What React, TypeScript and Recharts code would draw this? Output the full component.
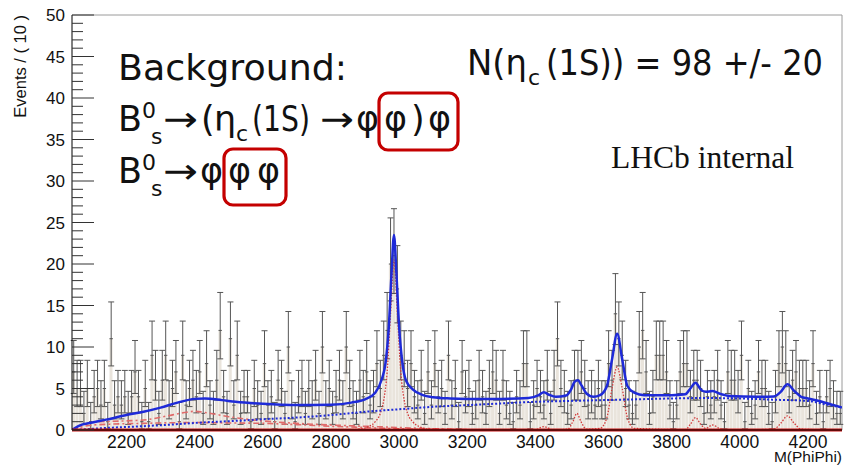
import React from 'react';
import {
  ComposedChart,
  Bar,
  Scatter,
  Line,
  XAxis,
  YAxis,
  ErrorBar,
  ReferenceLine,
} from 'recharts';

// binning of the M(PhiPhi) histogram
const BIN_START = 2040;
const BIN_WIDTH = 10;

// events per bin, 2040 -> 4300
const counts = [
  7, 5, 5, 2, 5, 1, 4, 5, 3, 5,
  1, 11, 3, 4, 3, 4, 2, 4, 7, 4,
  1, 5, 1, 9, 6, 2, 6, 9, 3, 5,
  7, 1, 9, 3, 5, 6, 4, 7, 2, 8,
  3, 2, 6, 12, 4, 2, 11, 3, 9, 2,
  4, 4, 1, 5, 3, 2, 8, 3, 4, 1,
  6, 5, 2, 10, 3, 1, 4, 5, 2, 5,
  3, 6, 2, 10, 3, 5, 2, 4, 6, 3,
  10, 5, 3, 2, 6, 4, 7, 3, 4, 8,
  5, 9, 12, 20, 21, 17, 9, 8, 5, 8,
  4, 3, 6, 2, 7, 3, 8, 4, 5, 2,
  9, 3, 5, 1, 7, 4, 5, 2, 3, 6,
  4, 2, 5, 7, 6, 2, 6, 3, 2, 1,
  4, 3, 8, 8, 1, 3, 5, 4, 3, 6,
  2, 6, 11, 5, 4, 2, 3, 6, 6, 7,
  5, 3, 4, 3, 5, 3, 3, 8, 6, 14,
  11, 9, 5, 3, 2, 3, 10, 12, 7, 2,
  4, 9, 9, 9, 7, 3, 1, 3, 7, 8,
  8, 4, 6, 6, 5, 2, 4, 3, 4, 6,
  3, 1, 7, 6, 6, 4, 9, 1, 5, 2,
  3, 7, 5, 5, 2, 1, 4, 8, 10, 8,
  4, 6, 7, 5, 5, 5, 3, 8, 2, 4,
  1, 4, 5, 3, 2, 2,
];

// total fit (blue solid)
const fitTotal = [
  [2040, 0], [2060, 0.5], [2100, 0.9], [2140, 1.25], [2200, 1.8], [2250, 2.2],
  [2300, 2.7], [2350, 3.3], [2400, 3.75], [2430, 3.8], [2480, 3.6], [2520, 3.4],
  [2600, 3.15], [2700, 3.0], [2800, 3.05], [2860, 3.3], [2900, 3.7], [2930, 4.5],
  [2950, 6.2], [2960, 8.0], [2970, 12.5], [2978, 19], [2985, 23.5], [2992, 19],
  [3000, 12.5], [3010, 8.0], [3020, 6.0], [3040, 4.9], [3070, 4.2], [3100, 3.95],
  [3150, 3.8], [3200, 3.75], [3300, 3.75], [3380, 3.85], [3410, 4.2], [3425, 4.55],
  [3440, 4.25], [3460, 4.0], [3490, 4.15], [3505, 4.9], [3515, 5.8], [3525, 6.0],
  [3535, 5.4], [3550, 4.4], [3570, 4.0], [3590, 4.2], [3610, 5.3], [3625, 8.5],
  [3640, 11.6], [3655, 8.5], [3670, 5.3], [3690, 4.5], [3720, 4.2], [3800, 4.2],
  [3840, 4.3], [3855, 5.0], [3870, 5.7], [3885, 4.9], [3900, 4.6], [3920, 4.7],
  [3940, 4.4], [3970, 4.1], [4050, 4.0], [4100, 4.05], [4120, 4.6], [4140, 5.5],
  [4160, 4.7], [4180, 4.0], [4200, 3.8], [4250, 3.3], [4300, 2.7],
];

// combinatorial background (blue dotted)
const fitBkg = [
  [2040, 0], [2080, 0.1], [2140, 0.25], [2220, 0.4], [2310, 0.6], [2420, 0.9],
  [2520, 1.1], [2600, 1.3], [2700, 1.5], [2800, 1.8], [2900, 2.2], [3000, 2.5],
  [3100, 2.8], [3200, 3.0], [3300, 3.2], [3400, 3.4], [3500, 3.5], [3600, 3.6],
  [3700, 3.7], [3800, 3.8], [3900, 3.85], [4000, 3.8], [4100, 3.65], [4200, 3.5],
  [4250, 3.1], [4300, 2.7],
];

// peaking backgrounds (red dashed)
const bkgBump = [
  [2040, 0], [2080, 0.7], [2120, 1.0], [2200, 1.1], [2260, 1.25], [2320, 1.7],
  [2370, 2.1], [2400, 2.25], [2440, 2.05], [2500, 1.6], [2600, 1.1], [2700, 0.8],
  [2800, 0.6], [2900, 0.45], [3000, 0.3], [3100, 0.15], [3200, 0.05],
];
const bkgFlat = [
  [2040, 0], [2090, 0.55], [2150, 0.7], [2250, 0.8], [2400, 0.9], [2500, 0.85],
  [2600, 0.8], [2700, 0.65], [2800, 0.45], [2900, 0.3], [3000, 0.15], [3100, 0.05],
];

// resonance components (red dotted)
const signals = [
  [2880, 0.1], [2910, 0.4], [2930, 1.0], [2945, 2.0], [2955, 3.6], [2965, 7.0],
  [2975, 14.0], [2985, 20.5], [2995, 14.0], [3005, 7.0], [3015, 3.6], [3025, 2.0],
  [3040, 1.0], [3060, 0.4], [3090, 0.1], [3400, 0], [3415, 0.3], [3425, 0.4],
  [3435, 0.3], [3450, 0], [3495, 0.1], [3510, 1.0], [3522, 2.0], [3534, 1.0],
  [3550, 0.1], [3590, 0.2], [3610, 1.5], [3625, 5.0], [3640, 7.6], [3655, 5.0],
  [3670, 1.5], [3690, 0.2], [3840, 0.05], [3855, 0.7], [3870, 1.5], [3885, 0.7],
  [3900, 0.2], [3920, 0.6], [3940, 0.2], [3960, 0], [4100, 0.1], [4120, 0.8],
  [4140, 1.7], [4160, 0.8], [4180, 0.1], [4300, 0],
];

const xTicks = [2200, 2400, 2600, 2800, 3000, 3200, 3400, 3600, 3800, 4000, 4200];
const yTicks = Array.from({ length: 51 }, (_, i) => i);

const hist = counts.map((n, i) => ({
  m: BIN_START + BIN_WIDTH * (i + 0.5),
  n,
  ey: [n > 0 ? Math.sqrt(n - 0.25) : 0, Math.sqrt(n + 0.75) + 1],
  ex: BIN_WIDTH / 2,
}));

const toRows = (pts: number[][]) => pts.map(([m, v]) => ({ m, v }));

const AXIS_FONT = '"Liberation Sans", Arial, sans-serif';
const BIG_FONT = '"DejaVu Sans", sans-serif';
const BLUE = '#1e2ad8';

const YTick = (props: any) => {
  const { x, y, payload } = props;
  const major = payload.value % 5 === 0;
  return (
    <g>
      <line x1={x} x2={x + (major ? 22 : 11)} y1={y} y2={y} stroke="#333" strokeWidth={1} />
      {major && (
        <text x={x - 7} y={y} dy="0.36em" textAnchor="end" fontSize={17} fontFamily={AXIS_FONT} fill="#111">
          {payload.value}
        </text>
      )}
    </g>
  );
};

const XTick = (props: any) => {
  const { x, y, payload } = props;
  return (
    <text x={x} y={y} dy="0.72em" textAnchor="middle" fontSize={17.5} fontFamily={AXIS_FONT} fill="#111">
      {payload.value}
    </text>
  );
};

// one run of the annotation text
const T = ({ x, y, size = 35, len, children }: any) => (
  <text
    x={x}
    y={y}
    fontSize={size}
    fontFamily={BIG_FONT}
    fill="#111"
    textLength={len}
    lengthAdjust={len ? 'spacingAndGlyphs' : undefined}
  >
    {children}
  </text>
);

const Overlay = () => (
  <svg width={844} height={466} style={{ position: 'absolute', left: 0, top: 0, pointerEvents: 'none' }}>
    <text x={26} y={15} transform="rotate(-90 26 15)" textAnchor="end" fontSize={16.5} fontFamily={AXIS_FONT} fill="#111">
      Events / ( 10 )
    </text>
    <text x={842} y={462} textAnchor="end" fontSize={15.5} fontFamily={AXIS_FONT} fill="#111">
      M(PhiPhi)
    </text>

    <T x={118} y={80} len={229}>Background:</T>

    <T x={118} y={131}>B</T>
    <T x={142} y={118} size={22}>0</T>
    <T x={151} y={144} size={22}>s</T>
    <T x={163} y={131} len={35}>→</T>
    <T x={201} y={131}>(</T>
    <T x={214} y={131}>η</T>
    <T x={236} y={141} size={22}>c</T>
    <T x={252} y={131} len={58}>(1S)</T>
    <T x={320} y={131} len={34}>→</T>
    <T x={356} y={131}>φ</T>
    <T x={384} y={131}>φ</T>
    <T x={411} y={131}>)</T>
    <T x={428} y={131}>φ</T>

    <T x={118} y={183}>B</T>
    <T x={142} y={170} size={22}>0</T>
    <T x={151} y={196} size={22}>s</T>
    <T x={163} y={183} len={35}>→</T>
    <T x={200} y={183}>φ</T>
    <T x={228} y={183}>φ</T>
    <T x={257} y={183}>φ</T>

    <T x={467} y={75} len={60}>N(η</T>
    <T x={528} y={85} size={22}>c</T>
    <T x={546} y={75} len={277}>(1S)) = 98 +/- 20</T>

    <rect x={379} y={93} width={79} height={57} rx={9} fill="none" stroke="#c40000" strokeWidth={3.2} />
    <rect x={224} y={149} width={62} height={56} rx={9} fill="none" stroke="#c40000" strokeWidth={3.2} />

    <text x={611} y={168} fontSize={31} fontFamily='"Liberation Serif", "Times New Roman", serif' fill="#111" textLength={183} lengthAdjust="spacingAndGlyphs">
      LHCb internal
    </text>
  </svg>
);

export default function App() {
  return (
    <div style={{ position: 'absolute', left: 0, top: 0, width: 844, height: 466, background: '#fff' }}>
      <ComposedChart
        width={844}
        height={466}
        data={hist}
        margin={{ top: 15, right: 2, bottom: 0, left: 0 }}
        barCategoryGap={0}
        barGap={0}
      >
        <XAxis xAxisId="f" dataKey="m" type="number" domain={[2040, 4300]} allowDataOverflow orientation="top" height={0} hide />
        <XAxis
          xAxisId="h"
          dataKey="m"
          type="number"
          domain={[2040, 4300]}
          allowDataOverflow
          ticks={xTicks}
          interval={0}
          height={36}
          tickLine={false}
          tickSize={0}
          tickMargin={5}
          axisLine={{ stroke: '#000' }}
          tick={<XTick />}
        />
        <YAxis
          type="number"
          domain={[0, 50]}
          allowDataOverflow
          ticks={yTicks}
          interval={0}
          width={72}
          tickLine={false}
          tickSize={0}
          tickMargin={0}
          axisLine={{ stroke: '#000' }}
          tick={<YTick />}
        />

        <ReferenceLine xAxisId="h" y={50} stroke="#9a9a9a" strokeWidth={1} />
        <ReferenceLine xAxisId="h" x={4300} stroke="#9a9a9a" strokeWidth={1} />

        <Bar xAxisId="h" dataKey="n" fill="#e9e4dc" isAnimationActive={false} />
        <Scatter xAxisId="h" data={hist} dataKey="n" shape={() => <g />} isAnimationActive={false}>
          <ErrorBar dataKey="ey" direction="y" width={3} stroke="#555" strokeWidth={1} />
          <ErrorBar dataKey="ex" direction="x" width={0} stroke="#555" strokeWidth={1} />
        </Scatter>

        <Line xAxisId="f" data={toRows(bkgFlat)} dataKey="v" type="monotone" dot={false} stroke="#e06a6a" strokeWidth={1.6} strokeDasharray="6 3 2 3" isAnimationActive={false} />
        <Line xAxisId="f" data={toRows(bkgBump)} dataKey="v" type="monotone" dot={false} stroke="#e06a6a" strokeWidth={1.6} strokeDasharray="6 3 2 3" isAnimationActive={false} />
        <Line xAxisId="f" data={toRows(signals)} dataKey="v" type="monotone" dot={false} stroke="#d23a3a" strokeWidth={1.3} strokeDasharray="1.5 1.5" isAnimationActive={false} />
        <Line xAxisId="f" data={toRows(fitBkg)} dataKey="v" type="monotone" dot={false} stroke={BLUE} strokeWidth={2} strokeDasharray="2 2" isAnimationActive={false} />
        <Line xAxisId="f" data={toRows(fitTotal)} dataKey="v" type="monotone" dot={false} stroke={BLUE} strokeWidth={2.5} isAnimationActive={false} />

        <ReferenceLine xAxisId="h" y={0} stroke="#c81414" strokeWidth={3} />
      </ComposedChart>
      <Overlay />
    </div>
  );
}
